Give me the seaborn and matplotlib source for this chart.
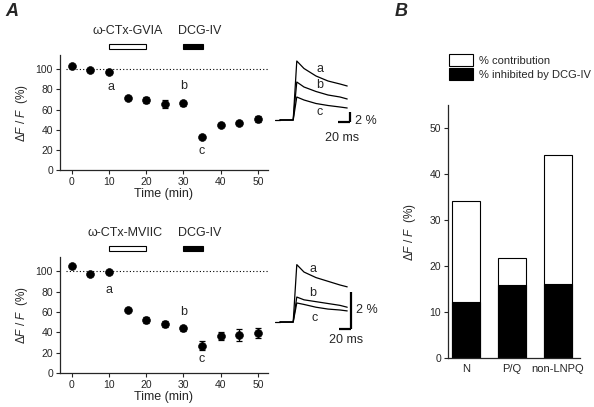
import matplotlib
matplotlib.use('Agg')
import matplotlib.pyplot as plt
from matplotlib.patches import Rectangle, Patch
import seaborn as sns
import numpy as np
import pandas as pd

# time course data (panel A)
time_min = [0, 5, 10, 15, 20, 25, 30, 35, 40, 45, 50]
gvia_mean = [103, 99, 97, 71, 69, 65, 66, 33, 45, 47, 51]
gvia_err = [1.5, 1.5, 2, 2, 3, 4, 2.5, 1.5, 1.5, 2, 3]
mviic_mean = [105, 97, 99, 62, 52, 48, 44, 27, 36, 37, 39]
mviic_err = [1.5, 1.5, 1.5, 1.5, 3, 3, 2.5, 4, 4, 6, 5]

# example traces (ms, % dF/F)
trace_t = [0, 22, 28, 40, 60, 80, 100, 112]
gvia_a = [0, 0, 11.8, 10.3, 8.8, 7.8, 7.2, 6.8]
gvia_b = [0, 0, 7.6, 6.6, 5.7, 5.0, 4.6, 4.2]
gvia_c = [0, 0, 4.6, 4.0, 3.3, 2.9, 2.6, 2.4]
mviic_a = [0, 0, 3.1, 2.7, 2.4, 2.2, 2.0, 1.9]
mviic_b = [0, 0, 1.35, 1.2, 1.1, 1.0, 0.9, 0.8]
mviic_c = [0, 0, 1.03, 0.95, 0.8, 0.7, 0.65, 0.6]

# panel B
channels = ['N', 'P/Q', 'non-LNPQ']
contribution = [34.2, 21.7, 44.1]
inhibited = [12.3, 15.9, 16.2]

sns.set_style('ticks')
plt.rcParams['font.family'] = ['Liberation Sans', 'DejaVu Sans']
plt.rcParams['mathtext.fontset'] = 'custom'
plt.rcParams['mathtext.rm'] = 'Liberation Sans'
plt.rcParams['mathtext.it'] = 'Liberation Sans:italic'
plt.rcParams['axes.linewidth'] = 0.9

ylab = r'$\Delta\it{F}$ / $\it{F}$  (%)'

fig = plt.figure(figsize=(5.94, 4.07), dpi=100)


def time_panel(rect, mean, err, drug, drug_x, letters):
    ax = fig.add_axes(rect)
    df = pd.DataFrame({'t': time_min, 'y': mean})
    ax.errorbar(time_min, mean, yerr=err, fmt='none', ecolor='black',
                elinewidth=0.9, capsize=2, capthick=0.9)
    sns.scatterplot(data=df, x='t', y='y', ax=ax, color='black', s=32,
                    edgecolor='black', zorder=3)
    ax.axhline(100, color='black', ls=(0, (1, 2)), lw=0.8, xmin=0.03, xmax=1)
    ax.set_xlim(-3.2, 52.7)
    ax.set_ylim(0, 114)
    ax.set_xticks(range(0, 51, 10))
    ax.set_yticks(range(0, 101, 20))
    ax.tick_params(labelsize=7.5, length=3, width=0.8, pad=2)
    ax.set_xlabel('Time (min)', fontsize=9, labelpad=1)
    ax.set_ylabel(ylab, fontsize=8.5, labelpad=4)
    sns.despine(ax=ax)
    # drug application bars
    ax.add_patch(Rectangle((10, 119.5), 10, 5.5, facecolor='white',
                           edgecolor='black', lw=0.8, clip_on=False))
    ax.add_patch(Rectangle((30, 119.5), 5.3, 5.5, facecolor='black',
                           edgecolor='black', lw=0.8, clip_on=False))
    ax.text(drug_x, 138, drug, fontsize=9, ha='center', va='center', clip_on=False)
    ax.text(34.4, 138, 'DCG-IV', fontsize=9, ha='center', va='center', clip_on=False)
    for (lx, ly, s) in letters:
        ax.text(lx, ly, s, fontsize=9, ha='center', va='center')
    return ax


time_panel([0.101, 0.582, 0.350, 0.283], gvia_mean, gvia_err,
           'ω-CTx-GVIA', 15, [(10.5, 82, 'a'), (30, 83, 'b'), (35, 19, 'c')])
time_panel([0.101, 0.0835, 0.350, 0.285], mviic_mean, mviic_err,
           'ω-CTx-MVIIC', 14.3, [(10, 82, 'a'), (30, 60, 'b'), (35, 14, 'c')])


def trace_panel(rect, ylim, traces, labels, vbar, hbar_y, pct_pos, ms_pos):
    ax = fig.add_axes(rect)
    ax.set_xlim(-8.3, 158.3)
    ax.set_ylim(*ylim)
    ax.axis('off')
    for tr in traces:
        ax.plot(trace_t, tr, color='black', lw=0.9)
    ax.plot([-8.3, 0], [0, 0], color='black', lw=0.9)
    for (lx, ly, s) in labels:
        ax.text(lx, ly, s, fontsize=9, ha='center', va='center')
    ax.plot([vbar[0], vbar[0]], [vbar[1], vbar[2]], color='black', lw=1.6,
            solid_capstyle='butt')
    ax.plot([vbar[0] - 20, vbar[0]], [hbar_y, hbar_y], color='black', lw=1.6,
            solid_capstyle='butt')
    ax.text(pct_pos[0], pct_pos[1], '2 %', fontsize=9, ha='left', va='center')
    ax.text(ms_pos[0], ms_pos[1], '20 ms', fontsize=9, ha='center', va='center')


trace_panel([275 / 594, 1 - 150 / 407, 100 / 594, 100 / 407], (-6, 14),
            [gvia_a, gvia_b, gvia_c],
            [(66.7, 10.2, 'a'), (66.7, 7.0, 'b'), (66.7, 1.6, 'c')],
            (116.7, 1.6, -0.4), -0.4, (125, -0.2), (103, -3.6))
trace_panel([275 / 594, 1 - 350 / 407, 100 / 594, 100 / 407], (-1.51, 3.89),
            [mviic_a, mviic_b, mviic_c],
            [(55, 2.86, 'a'), (55, 1.57, 'b'), (58, 0.22, 'c')],
            (118, 1.62, -0.38), -0.38, (127, 0.65), (110, -0.97))

# panel B
axB = fig.add_axes([448 / 594, 0.120, 132 / 594, 0.622])
sns.barplot(x=channels, y=contribution, color='white', edgecolor='black',
            linewidth=0.8, width=0.61, ax=axB, saturation=1)
sns.barplot(x=channels, y=inhibited, color='black', edgecolor='black',
            linewidth=0.8, width=0.61, ax=axB, saturation=1)
axB.set_xlim(-0.39, 2.48)
axB.set_ylim(0, 55)
axB.set_yticks(range(0, 51, 10))
axB.tick_params(axis='y', labelsize=7.5, length=3, width=0.8, pad=2)
axB.tick_params(axis='x', labelsize=8, length=0, pad=4)
axB.set_ylabel(ylab, fontsize=8.5, labelpad=8)
sns.despine(ax=axB)

handles = [Patch(facecolor='white', edgecolor='black', lw=0.8),
           Patch(facecolor='black', edgecolor='black', lw=0.8)]
fig.legend(handles, ['% contribution', '% inhibited by DCG-IV'],
           loc='upper left', bbox_to_anchor=(440 / 594, 1 - 45 / 407),
           frameon=False, fontsize=8, handlelength=2.2, handleheight=1.3,
           handletextpad=0.5, labelspacing=0.2, borderpad=0.3)

fig.text(5 / 594, 1 - 12 / 407, 'A', fontsize=13, fontstyle='italic',
         fontweight='bold', va='center', ha='left')
fig.text(395 / 594, 1 - 12 / 407, 'B', fontsize=13, fontstyle='italic',
         fontweight='bold', va='center', ha='left')

fig.savefig('out.png', dpi=100, facecolor='white')
